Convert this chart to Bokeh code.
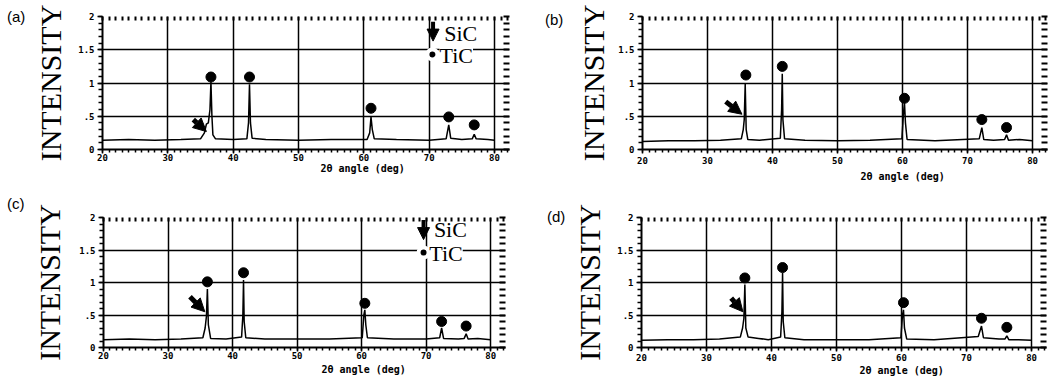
from bokeh.plotting import figure
from bokeh.models import Range1d, LinearAxis, FixedTicker, Label, Arrow, NormalHead, Title, Div
from bokeh.layouts import column, row
from bokeh.embed import file_html
from bokeh.resources import INLINE

X_TICKS = [20, 30, 40, 50, 60, 70, 80]
X_MINOR = list(range(20, 83))
Y_TICKS = [0, 0.5, 1, 1.5, 2]
Y_GRID = [0.5, 1, 1.5]
Y_MINOR = [i / 10 for i in range(0, 21)]
Y_TICK_LABELS = {0: "0", 0.5: ".5", 1: "1", 1.5: "1.5", 2: "2"}
X_TITLE = "2θ angle (deg)"
Y_TITLE = "INTENSITY"

# panel (a)
A_X = [20, 24, 28, 32, 35.0, 35.6, 35.9, 36.2, 36.45, 36.6, 36.75, 36.9, 37.3, 40, 42.1, 42.35, 42.5, 42.65, 42.9, 45, 50, 55, 60.5, 60.9, 61.1, 61.3, 61.6, 65, 70, 72.6, 73.0, 73.3, 75, 76.6, 76.9, 77.2, 79, 80]
A_Y = [0.14, 0.15, 0.14, 0.15, 0.16, 0.25, 0.38, 0.40, 0.60, 1.02, 0.50, 0.22, 0.16, 0.15, 0.16, 0.40, 0.98, 0.40, 0.17, 0.15, 0.14, 0.15, 0.15, 0.25, 0.49, 0.30, 0.16, 0.15, 0.14, 0.16, 0.37, 0.17, 0.15, 0.16, 0.23, 0.16, 0.15, 0.14]
A_TIC_X = [36.6, 42.5, 61.1, 73.0, 76.9]
A_TIC_Y = [1.09, 1.09, 0.62, 0.49, 0.37]
A_SIC_ARROW = [33.9, 0.45, 35.9, 0.27]

# panel (b)
B_X = [20, 24, 28, 32, 35.2, 35.5, 35.65, 35.8, 35.95, 36.2, 38, 41.2, 41.4, 41.5, 41.6, 41.85, 45, 50, 55, 59.9, 60.15, 60.3, 60.45, 60.7, 65, 71.8, 72.2, 72.5, 74, 75.7, 76.0, 76.3, 78, 80]
B_Y = [0.12, 0.13, 0.13, 0.14, 0.16, 0.30, 0.45, 0.99, 0.30, 0.15, 0.14, 0.17, 0.60, 1.14, 0.45, 0.16, 0.14, 0.13, 0.14, 0.16, 0.55, 0.70, 0.40, 0.15, 0.13, 0.16, 0.33, 0.15, 0.14, 0.15, 0.22, 0.14, 0.15, 0.13]
B_TIC_X = [35.9, 41.5, 60.3, 72.2, 76.0]
B_TIC_Y = [1.12, 1.25, 0.77, 0.45, 0.33]
B_SIC_ARROW = [32.8, 0.72, 35.3, 0.53]

# panel (c)
C_X = [20, 24, 28, 32, 35.4, 35.75, 35.95, 36.1, 36.25, 36.6, 39, 41.4, 41.6, 41.7, 41.8, 42.05, 45, 50, 55, 60.1, 60.35, 60.5, 60.65, 60.9, 65, 70, 72.1, 72.4, 72.7, 75, 75.9, 76.2, 76.5, 78, 80]
C_Y = [0.12, 0.13, 0.12, 0.13, 0.15, 0.30, 0.48, 0.90, 0.35, 0.14, 0.13, 0.16, 0.50, 1.04, 0.40, 0.15, 0.13, 0.13, 0.13, 0.15, 0.50, 0.58, 0.35, 0.15, 0.13, 0.13, 0.15, 0.30, 0.14, 0.13, 0.14, 0.21, 0.13, 0.14, 0.12]
C_TIC_X = [36.1, 41.7, 60.5, 72.4, 76.2]
C_TIC_Y = [1.01, 1.15, 0.68, 0.40, 0.33]
C_SIC_ARROW = [33.4, 0.78, 35.7, 0.55]

# panel (d)
D_X = [20, 24, 28, 32, 35.2, 35.55, 35.75, 35.9, 36.05, 36.4, 38, 39.5, 41.4, 41.6, 41.7, 41.8, 42.05, 45, 50, 55, 59.9, 60.15, 60.3, 60.45, 60.8, 65, 71.8, 72.3, 72.6, 75, 75.9, 76.2, 76.5, 78, 80]
D_Y = [0.11, 0.12, 0.12, 0.13, 0.16, 0.30, 0.45, 0.97, 0.30, 0.16, 0.14, 0.12, 0.16, 0.55, 1.15, 0.40, 0.15, 0.12, 0.12, 0.12, 0.15, 0.50, 0.58, 0.30, 0.13, 0.12, 0.17, 0.33, 0.15, 0.13, 0.13, 0.18, 0.12, 0.12, 0.11]
D_TIC_X = [35.9, 41.7, 60.3, 72.3, 76.2]
D_TIC_Y = [1.07, 1.23, 0.69, 0.45, 0.31]
D_SIC_ARROW = [33.8, 0.76, 35.6, 0.55]

# legends (a) and (c): [arrow_x, arrow_y0, arrow_y1, text_x, sic_y, dot_x, dot_y, tic_y]
A_LEGEND = [70.6, 1.92, 1.63, 72.3, 1.74, 70.5, 1.43, 1.41]
C_LEGEND = [69.6, 1.96, 1.66, 71.2, 1.82, 69.6, 1.46, 1.45]

MONO = "DejaVu Sans Mono"
SERIF = "Liberation Serif"


def make_panel(xs, ys, tx, ty, arrow, legend, w, h, bl, br, bt, bb,
               label_standoff, xlab_standoff, title_standoff, title_offset):
    p = figure(width=w, height=h, x_range=Range1d(20, 82.3), y_range=Range1d(0, 2),
               output_backend="svg", toolbar_location=None,
               min_border_left=bl, min_border_right=br, min_border_top=bt, min_border_bottom=bb)
    p.outline_line_color = None
    p.background_fill_color = "white"
    p.border_fill_color = "white"

    xa = p.xaxis[0]
    xa.ticker = FixedTicker(ticks=X_TICKS, minor_ticks=X_MINOR)
    xa.axis_line_width = 2
    xa.axis_line_color = "black"
    xa.major_tick_out = 4
    xa.major_tick_in = 0
    xa.minor_tick_out = 3
    xa.minor_tick_in = 0
    xa.major_tick_line_width = 1.5
    xa.minor_tick_line_width = 1.5
    xa.major_label_text_font = MONO
    xa.major_label_text_font_style = "bold"
    xa.major_label_text_font_size = "9px"
    xa.major_label_text_color = "black"
    xa.major_label_standoff = xlab_standoff

    ya = p.yaxis[0]
    ya.ticker = FixedTicker(ticks=Y_TICKS, minor_ticks=Y_MINOR)
    ya.major_label_overrides = Y_TICK_LABELS
    ya.axis_line_width = 2
    ya.axis_line_color = "black"
    ya.major_tick_out = 5
    ya.major_tick_in = 0
    ya.minor_tick_out = 4
    ya.minor_tick_in = 0
    ya.major_tick_line_width = 1.5
    ya.minor_tick_line_width = 1.5
    ya.major_label_text_font = MONO
    ya.major_label_text_font_style = "bold"
    ya.major_label_text_font_size = "9px"
    ya.major_label_text_color = "black"
    ya.major_label_standoff = 3
    ya.axis_label = Y_TITLE
    ya.axis_label_text_font = SERIF
    ya.axis_label_text_font_style = "normal"
    ya.axis_label_text_font_size = "30px"
    ya.axis_label_text_color = "black"
    ya.axis_label_standoff = label_standoff

    top = LinearAxis(ticker=FixedTicker(ticks=[], minor_ticks=X_MINOR),
                     axis_line_color=None, major_tick_in=0, major_tick_out=0,
                     minor_tick_in=4, minor_tick_out=0, minor_tick_line_width=2,
                     major_label_standoff=0)
    p.add_layout(top, "above")
    right = LinearAxis(ticker=FixedTicker(ticks=[], minor_ticks=Y_MINOR),
                       axis_line_color=None, major_tick_in=0, major_tick_out=0,
                       minor_tick_in=6, minor_tick_out=0, minor_tick_line_width=2,
                       major_label_standoff=0)
    p.add_layout(right, "right")

    p.xgrid.ticker = FixedTicker(ticks=X_TICKS)
    p.ygrid.ticker = FixedTicker(ticks=Y_GRID)
    for g in (p.xgrid[0], p.ygrid[0]):
        g.grid_line_color = "black"
        g.grid_line_width = 1.5
        g.grid_line_alpha = 1.0

    p.line(xs, ys, line_color="black", line_width=1.5)
    p.scatter(tx, ty, size=10, marker="circle", fill_color="black", line_color="black")

    p.add_layout(Arrow(end=NormalHead(size=13, fill_color="black", line_color="black"),
                       x_start=arrow[0], y_start=arrow[1], x_end=arrow[2], y_end=arrow[3],
                       line_width=5, line_color="black"))

    if legend is not None:
        ax, ay0, ay1, txx, sic_y, dx, dy, tic_y = legend
        p.add_layout(Label(x=txx - 0.4, y=tic_y, text="TiC", text_font=SERIF, text_font_size="22px",
                           text_baseline="middle", text_align="left", text_color="black",
                           background_fill_color="white", x_offset=-2))
        p.add_layout(Label(x=txx, y=sic_y, text="SiC", text_font=SERIF, text_font_size="22px",
                           text_baseline="middle", text_align="left", text_color="black"))
        p.add_layout(Arrow(end=NormalHead(size=12, fill_color="black", line_color="black"),
                           x_start=ax, y_start=ay0, x_end=ax, y_end=ay1,
                           line_width=4, line_color="black"))
        p.scatter([dx], [dy], size=10, marker="circle", fill_color="black",
                  line_color="white", line_width=4)

    p.add_layout(Title(text=X_TITLE, align="left", offset=title_offset, standoff=title_standoff,
                       text_font=MONO, text_font_style="bold", text_font_size="10px",
                       text_color="black"), "below")
    return p


def letter_div(letter, w, h, left, top):
    return Div(text=f'<div style="margin-left:{left}px; margin-top:{top}px; '
                    f'font-family:\'Liberation Sans\'; font-size:15px; line-height:17px; color:black">'
                    f'{letter}</div>',
               width=w, height=h, margin=0)


pa = make_panel(A_X, A_Y, A_TIC_X, A_TIC_Y, A_SIC_ARROW, A_LEGEND,
                495, 190, 72, 16, 14, 41, 8, 0, -6, 218)
pb = make_panel(B_X, B_Y, B_TIC_X, B_TIC_Y, B_SIC_ARROW, None,
                484, 190, 72, 7, 16, 36, 5, 3, 5, 218)
pc = make_panel(C_X, C_Y, C_TIC_X, C_TIC_Y, C_SIC_ARROW, C_LEGEND,
                495, 190, 70, 20, 22, 33, 10, 0, 0, 218)
pd = make_panel(D_X, D_Y, D_TIC_X, D_TIC_Y, D_SIC_ARROW, None,
                484, 190, 70, 8, 27, 28, 8, 2, -2, 218)

da = letter_div("(a)", 30, 190, 7, 8)
db = letter_div("(b)", 45, 190, 20, 11)
dc = letter_div("(c)", 30, 190, 7, 5)
dd = letter_div("(d)", 45, 190, 22, 18)

layout = column(row(da, pa, db, pb), row(dc, pc, dd, pd))
open("out.html", "w").write(file_html(layout, INLINE))
